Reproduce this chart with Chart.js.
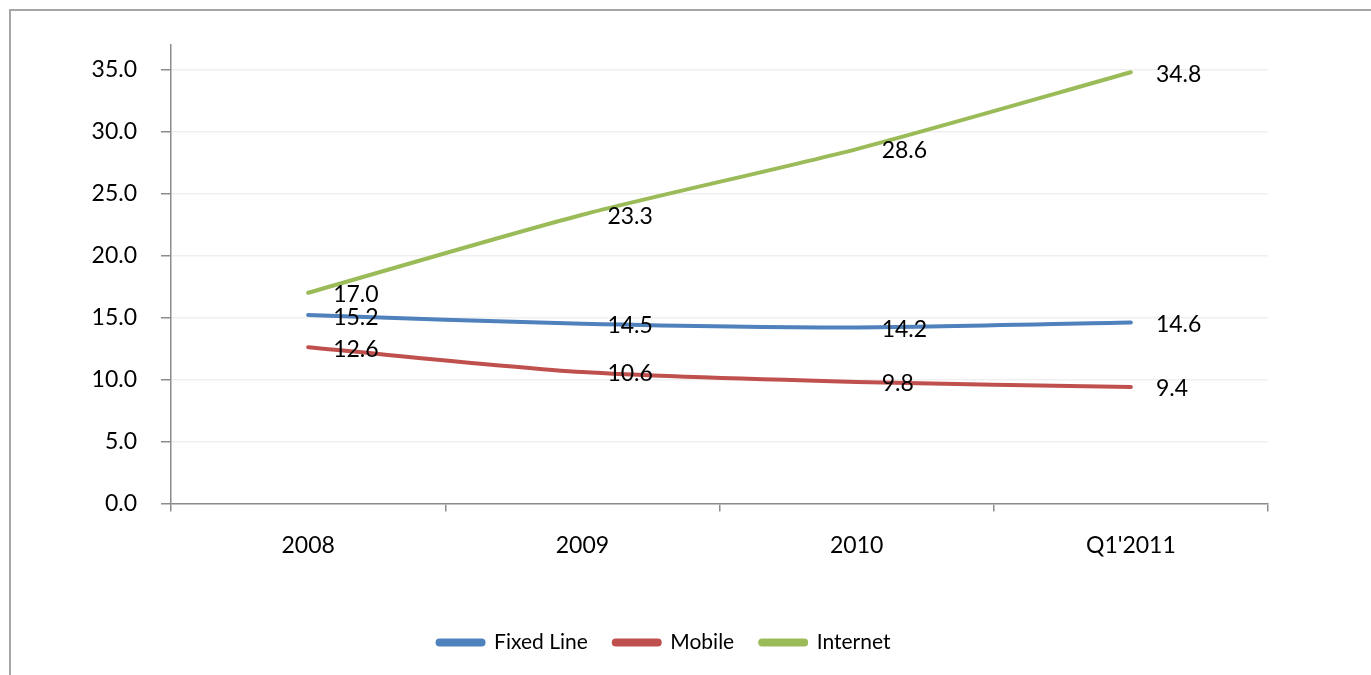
<!DOCTYPE html>
<html>
<head>
<meta charset="utf-8">
<script src="https://cdn.jsdelivr.net/npm/chart.js@4"></script>
<style>
  body { margin: 0; background: #fff; overflow: hidden; }
  #frame { position: absolute; left: 9px; top: 9px; width: 1400px; height: 700px; border: 2px solid #a6a6a6; box-sizing: border-box; }
  #wrap { position: absolute; left: 0; top: 0; width: 1371px; height: 675px; }
</style>
</head>
<body>
<div id="frame"></div>
<div id="wrap"><canvas id="myLineChart"></canvas></div>
<script>
const categories = ['2008', '2009', '2010', "Q1'2011"];
const fixedLine = [15.2, 14.5, 14.2, 14.6];
const mobile = [12.6, 10.6, 9.8, 9.4];
const internet = [17.0, 23.3, 28.6, 34.8];
const yTicks = [0, 5, 10, 15, 20, 25, 30, 35];

const FONT = 'Lato, "Open Sans", sans-serif';

// value labels to the right of each point
const valueLabels = {
  id: 'valueLabels',
  afterDatasetsDraw(chart) {
    const ctx = chart.ctx;
    ctx.save();
    ctx.font = '23px ' + FONT;
    ctx.fillStyle = '#000';
    ctx.textBaseline = 'middle';
    ctx.textAlign = 'left';
    chart.data.datasets.forEach((ds, i) => {
      chart.getDatasetMeta(i).data.forEach((pt, j) => {
        ctx.fillText(ds.data[j].toFixed(1), pt.x + 25, pt.y + 2);
      });
    });
    ctx.restore();
  }
};

document.addEventListener('DOMContentLoaded', function () {
  const ctx = document.getElementById('myLineChart').getContext('2d');
  new Chart(ctx, {
    type: 'line',
    data: {
      labels: categories,
      datasets: [
        { label: 'Fixed Line', data: fixedLine, borderColor: '#4F81BD', backgroundColor: '#4F81BD' },
        { label: 'Mobile', data: mobile, borderColor: '#C0504D', backgroundColor: '#C0504D' },
        { label: 'Internet', data: internet, borderColor: '#9BBB59', backgroundColor: '#9BBB59' }
      ]
    },
    options: {
      responsive: true,
      maintainAspectRatio: false,
      animation: false,
      elements: {
        line: { borderWidth: 4, tension: 0.25, borderCapStyle: 'round' },
        point: { radius: 0, hoverRadius: 0 }
      },
      layout: { padding: { top: 45, right: 103, left: 60, bottom: 12 } },
      scales: {
        x: {
          offset: true,
          afterFit(scale) { scale.height += 27; },
          grid: { offset: true, drawOnChartArea: false, color: '#8c8c8c', tickLength: 8, lineWidth: 1.5 },
          border: { color: '#8c8c8c', width: 1.5 },
          ticks: { color: '#000', font: { family: FONT, size: 23 }, padding: 20 }
        },
        y: {
          min: 0,
          max: 37,
          afterBuildTicks(scale) {
            scale.ticks = yTicks.map(v => ({ value: v }));
          },
          afterFit(scale) { scale.width = 111; },
          grid: { color: '#efefef', lineWidth: 1.5, tickLength: 10, tickColor: '#8c8c8c' },
          border: { color: '#8c8c8c', width: 1.5 },
          ticks: {
            color: '#000',
            font: { family: FONT, size: 23 },
            padding: 24,
            callback: v => v.toFixed(1)
          }
        }
      },
      plugins: {
        tooltip: { enabled: false },
        legend: {
          position: 'bottom',
          labels: {
            color: '#000',
            font: { family: FONT, size: 21 },
            boxWidth: 46,
            boxHeight: 4,
            useBorderRadius: true,
            borderRadius: 2,
            padding: 26
          }
        }
      }
    },
    plugins: [valueLabels]
  });
});
</script>
</body>
</html>
